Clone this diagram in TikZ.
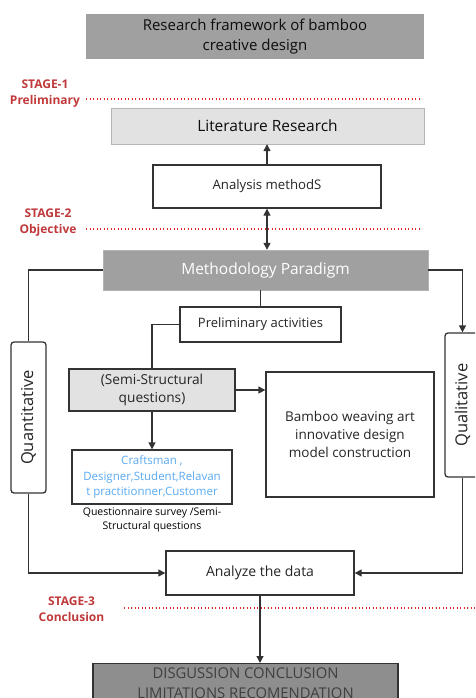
\documentclass[tikz,border=0pt]{standalone}
\usepackage{fontspec}
\setmainfont{Open Sans}
\usetikzlibrary{arrows.meta}
\definecolor{midgray}{HTML}{A0A0A0}
\definecolor{lightgray}{HTML}{E2E2E2}
\definecolor{darkgray}{HTML}{8E8E8E}
\definecolor{linecol}{HTML}{333333}
\definecolor{stagered}{HTML}{C0393B}
\definecolor{dotred}{HTML}{E02525}
\definecolor{blueText}{HTML}{5AAAF2}
\tikzset{
  fs/.style={font=\fontsize{#1}{\fpeval{#1*1.33}}\selectfont},
  box/.style={draw=linecol, line width=1.3pt, fill=white, align=center, inner sep=2pt, text=black!85},
  arr/.style={draw=linecol, line width=1.3pt, -{Triangle[length=7pt,width=7pt]}},
  ln/.style={draw=linecol, line width=1.3pt},
  stage/.style={text=stagered, font=\fontsize{12}{16}\selectfont\bfseries, align=center},
  dotline/.style={draw=dotred, line width=1.4pt, dash pattern=on 1.2pt off 2.3pt},
}
\begin{document}
\begin{tikzpicture}[x=1pt,y=-1pt]
\useasboundingbox (0,0) rectangle (475,698);
\clip (0,0) rectangle (475,698);
% title
\node[fill=midgray, minimum width=338pt, minimum height=45pt, align=center, fs=15, text=black!95, inner sep=0pt] (title) at (255,36.5) {Research framework of bamboo\\creative design};
% stage 1
\node[stage] (s1) at (45,94) {STAGE-1\\Preliminary};
\coordinate (d1a) at (86,99);
\coordinate (d1b) at (422,99);
\draw[dotline] (d1a) -- (d1b);
\node[fill=lightgray, draw=lightgray!80!black, line width=0.4pt, minimum width=313pt, minimum height=36pt, fs=15.5, text=black!95] (lit) at (267.5,126) {Literature Research};
\node[box, minimum width=228pt, minimum height=43pt, fs=13.2] (ana) at (267,186.5) {Analysis methodS};
% stage 2
\node[stage] (s2) at (48,223) {STAGE-2\\Objective};
\coordinate (d2a) at (86,229);
\coordinate (d2b) at (422,229);
\draw[dotline] (d2a) -- (d2b);
\node[fill=midgray, draw=midgray!80!white, line width=0.4pt, minimum width=325pt, minimum height=40pt, fs=15.5, text=white] (meth) at (265.5,270) {Methodology Paradigm};
\node[box, minimum width=161pt, minimum height=35pt, fs=13] (pre) at (260.5,324.5) {Preliminary activities};
\node[box, fill=lightgray, minimum width=166pt, minimum height=42pt, fs=13.7] (semi) at (152,390) {(Semi-Structural\\questions)};
\node[box, minimum width=168pt, minimum height=125pt, fs=13.5] (bam) at (350,434.5) {Bamboo weaving art\\innovative design\\model construction};
\node[box, minimum width=160pt, minimum height=54pt, fs=11.5, text=blueText, inner sep=1pt] (craft) at (152,477) {Craftsman ,\\Designer,Student,Relavan\\t practitionner,Customer};
\node[fs=10.5, align=center, text=black, inner sep=0pt] (cap) at (152,520) {Questionnaire survey /Semi-\\Structural questions};
\node[box, rounded corners=3pt, minimum width=35pt, minimum height=151pt] (quant) at (28.5,417.5) {};
\node[rotate=90, fs=16.5, text=black!85] (quantt) at (quant.center) {Quantitative};
\node[box, rounded corners=3pt, minimum width=35pt, minimum height=144pt] (qual) at (462.5,405) {};
\node[rotate=90, fs=16.5, text=black!85] (qualt) at (qual.center) {Qualitative};
\node[box, minimum width=188pt, minimum height=44pt, fs=14] (anz) at (260,573) {Analyze the data};
% stage 3
\node[stage] (s3) at (71.5,609) {STAGE-3\\Conclusion};
\coordinate (d3a) at (124,608);
\coordinate (d3b) at (475,608);
\draw[dotline] (d3a) -- (d3b);
\node[box, fill=darkgray, minimum width=305pt, fs=14.8, text=black!75, anchor=north, inner xsep=0pt, inner ysep=4pt] (disg) at (245.5,663) {DISGUSSION CONCLUSION\\LIMITATIONS RECOMENDATION};
% connectors
\draw[arr] (ana.north) -- (lit.south -| ana.north);
\draw[arr, {Triangle[length=7pt,width=7pt]}-{Triangle[length=7pt,width=7pt]}] (ana.south) -- (meth.north -| ana.south);
\draw[ln] (meth.west) -| (quant.north);
\draw[arr] (quant.south) |- (anz.west);
\draw[arr] (meth.east) -| (qual.north);
\draw[arr] (qual.south) |- (anz.east);
\draw[ln] (pre.north) -- (pre.north |- meth.south);
\draw[ln] (pre.west) -| (semi.north);
\draw[arr] (semi.east) -- (bam.west |- semi.east);
\draw[arr] (semi.south) -- (craft.north);
\draw[arr] (anz.south) -- (disg.north -| anz.south);
\end{tikzpicture}
\end{document}
